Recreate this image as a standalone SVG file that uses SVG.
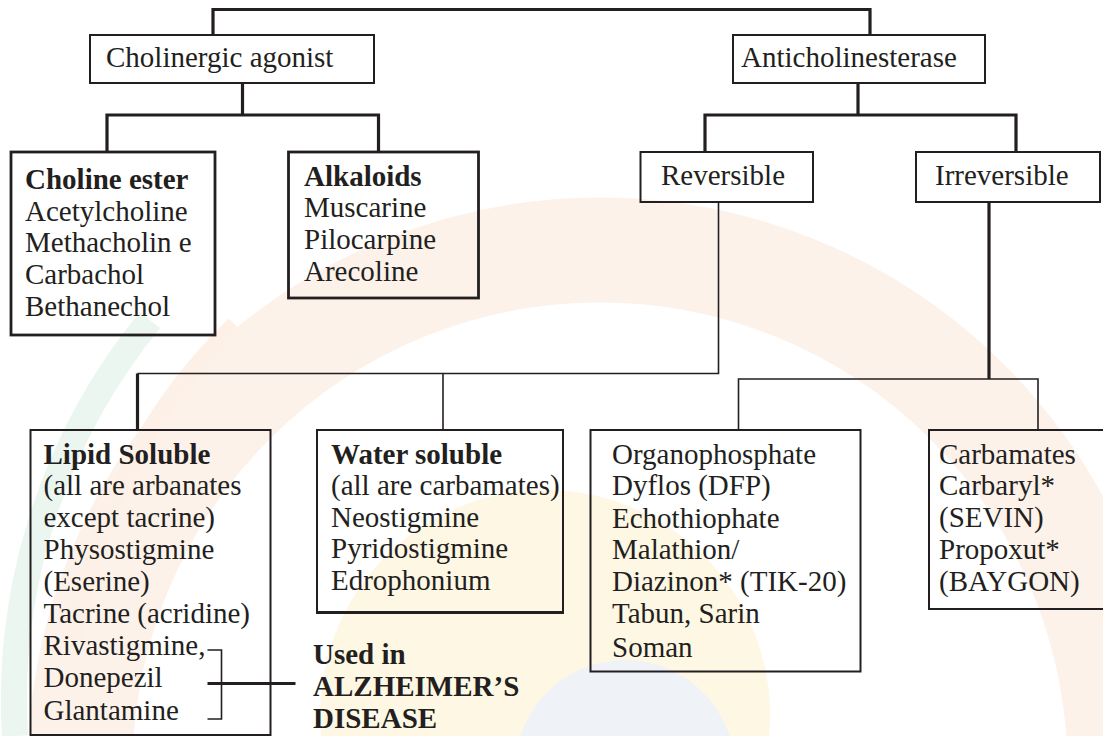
<svg xmlns="http://www.w3.org/2000/svg" width="1103" height="736" viewBox="0 0 1103 736" font-family="Liberation Serif, Times New Roman, Times, serif">
  <style>
    .box { fill: none; stroke: #231f20; stroke-width: 2; }
    .box-heavy { fill: none; stroke: #231f20; stroke-width: 2.8; }
    .thick { fill: none; stroke: #231f20; stroke-width: 3.2; }
    .thin { fill: none; stroke: #231f20; stroke-width: 1.6; }
    text { font-size: 29px; fill: #231f20; }
    .b { font-weight: bold; }
  </style>

  <!-- faint background emblem -->
  <g id="emblem">
    <circle cx="600" cy="770" r="520" fill="none" stroke="#fdf2ea" stroke-width="105"/>
    <path d="M 15 736 A 600 600 0 0 1 150 320" fill="none" stroke="#eaf6ef" stroke-width="26"/>
    <path d="M 75 640 A 540 540 0 0 1 235 325" fill="none" stroke="#fdf0e6" stroke-width="18"/>
    <circle cx="545" cy="715" r="225" fill="#fef7e4"/>
    <circle cx="625" cy="770" r="110" fill="#eff2f7"/>
  </g>

  <g id="connectors">
    <!-- root bar -->
    <polyline class="thick" points="213,35 213,9.5 870,9.5 870,35"/>
    <!-- cholinergic agonist branches -->
    <line class="thick" x1="242.5" y1="83" x2="242.5" y2="115"/>
    <polyline class="thick" points="107,152 107,115 378.5,115 378.5,152"/>
    <!-- anticholinesterase branches -->
    <line class="thick" x1="858" y1="83" x2="858" y2="115"/>
    <polyline class="thick" points="705,152 705,115 1016,115 1016,152"/>
    <!-- reversible branches -->
    <polyline class="thin" points="718.5,202 718.5,373.5 137.5,373.5"/>
    <line class="thick" x1="137.5" y1="373.5" x2="137.5" y2="430"/>
    <line class="thin" x1="443" y1="373.5" x2="443" y2="430"/>
    <!-- irreversible branches -->
    <line class="thick" x1="989" y1="202" x2="989" y2="379"/>
    <polyline class="thin" points="738.5,430 738.5,379 1038,379 1038,430"/>
    <!-- Alzheimer bracket -->
    <polyline class="thin" points="207.5,650 221.5,650 221.5,719 207.5,719"/>
    <line class="thick" x1="207.5" y1="683.5" x2="295.5" y2="683.5"/>
  </g>

  <g id="cholinergic-agonist">
    <rect class="box" x="90" y="35" width="284" height="48"/>
    <text x="106" y="67">Cholinergic agonist</text>
  </g>

  <g id="anticholinesterase">
    <rect class="box" x="733" y="35" width="252" height="48"/>
    <text x="741" y="67">Anticholinesterase</text>
  </g>

  <g id="choline-ester">
    <rect class="box-heavy" x="11" y="152" width="204" height="183"/>
    <text class="b" x="25" y="188.5">Choline ester</text>
    <text x="25" y="220.5">Acetylcholine</text>
    <text x="25" y="252">Methacholin e</text>
    <text x="25" y="284">Carbachol</text>
    <text x="25" y="316">Bethanechol</text>
  </g>

  <g id="alkaloids">
    <rect class="box-heavy" x="288.5" y="152" width="190" height="146"/>
    <text class="b" x="304" y="185.5">Alkaloids</text>
    <text x="304" y="217">Muscarine</text>
    <text x="304" y="249">Pilocarpine</text>
    <text x="304" y="281">Arecoline</text>
  </g>

  <g id="reversible">
    <rect class="box" x="640.5" y="152" width="172.5" height="50"/>
    <text x="661" y="185">Reversible</text>
  </g>

  <g id="irreversible">
    <rect class="box" x="916" y="152" width="184" height="50"/>
    <text x="935" y="185">Irreversible</text>
  </g>

  <g id="lipid-soluble">
    <rect class="box" x="30.5" y="430" width="240" height="305"/>
    <text class="b" x="43.5" y="463.5">Lipid Soluble</text>
    <text x="43.5" y="495">(all are arbanates</text>
    <text x="43.5" y="527">except tacrine)</text>
    <text x="43.5" y="559">Physostigmine</text>
    <text x="43.5" y="591">(Eserine)</text>
    <text x="43.5" y="623">Tacrine (acridine)</text>
    <text x="43.5" y="655">Rivastigmine,</text>
    <text x="43.5" y="687">Donepezil</text>
    <text x="43.5" y="720">Glantamine</text>
  </g>

  <g id="water-soluble">
    <rect class="box" x="317" y="430" width="246" height="183"/>
    <line x1="317" y1="612.5" x2="563" y2="612.5" stroke="#231f20" stroke-width="3"/>
    <text class="b" x="331" y="463.5">Water soluble</text>
    <text x="331" y="495">(all are carbamates)</text>
    <text x="331" y="526.5">Neostigmine</text>
    <text x="331" y="558">Pyridostigmine</text>
    <text x="331" y="590">Edrophonium</text>
  </g>

  <g id="organophosphate">
    <rect class="box" x="590.5" y="430" width="270" height="241.5"/>
    <text x="612" y="463.5">Organophosphate</text>
    <text x="612" y="495">Dyflos (DFP)</text>
    <text x="612" y="527.5">Echothiophate</text>
    <text x="612" y="559">Malathion/</text>
    <text x="612" y="591">Diazinon* (TIK-20)</text>
    <text x="612" y="623">Tabun, Sarin</text>
    <text x="612" y="657">Soman</text>
  </g>

  <g id="carbamates">
    <rect class="box" x="929" y="430" width="180" height="179"/>
    <text x="939" y="463.5">Carbamates</text>
    <text x="939" y="495">Carbaryl*</text>
    <text x="939" y="527">(SEVIN)</text>
    <text x="939" y="559">Propoxut*</text>
    <text x="939" y="591">(BAYGON)</text>
  </g>

  <g id="alzheimer-note">
    <text class="b" x="313" y="664">Used in</text>
    <text class="b" x="313" y="696">ALZHEIMER’S</text>
    <text class="b" x="313" y="728">DISEASE</text>
  </g>
</svg>
